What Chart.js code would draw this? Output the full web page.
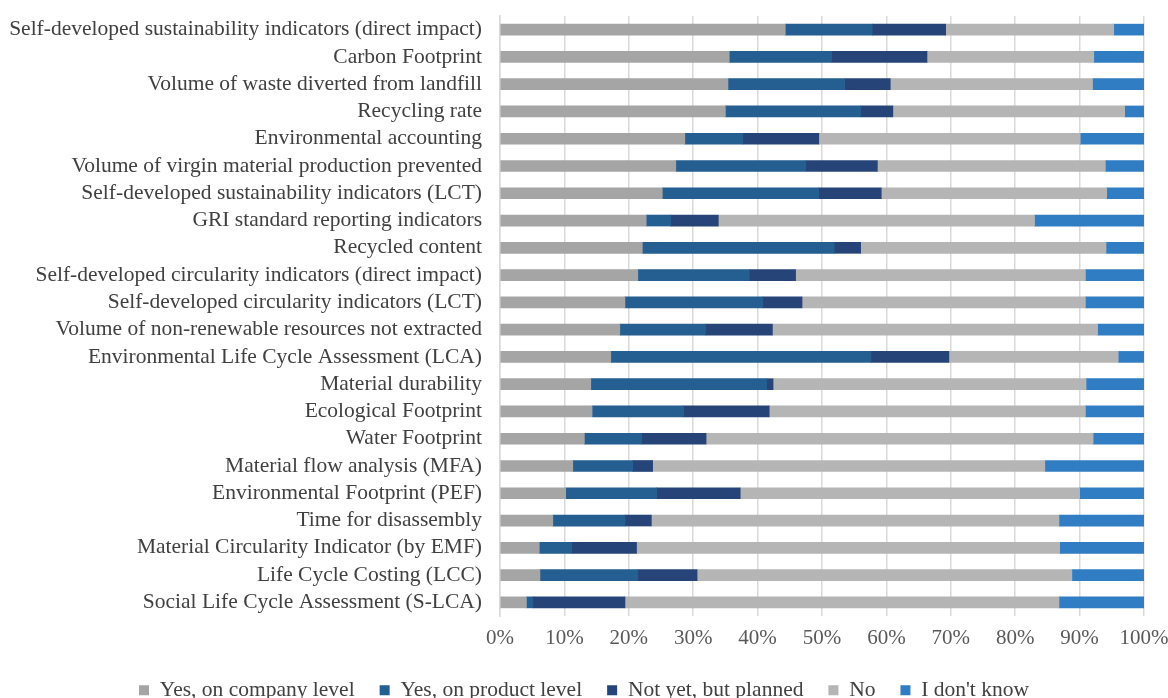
<!DOCTYPE html>
<html>
<head>
<meta charset="utf-8">
<script src="https://cdn.jsdelivr.net/npm/chart.js@4.4.1/dist/chart.umd.min.js"></script>
<style>
  html, body { margin: 0; padding: 0; background: #fff; }
  .charts { width: 1168px; height: 698px; }
</style>
</head>
<body>
<div class="charts">
  <canvas id="indicatorChart" width="1168" height="698"></canvas>
</div>
<script>
var indicators = [
  "Self-developed sustainability indicators (direct impact)",
  "Carbon Footprint",
  "Volume of waste diverted from landfill",
  "Recycling rate",
  "Environmental accounting",
  "Volume of virgin material production prevented",
  "Self-developed sustainability indicators (LCT)",
  "GRI standard reporting indicators",
  "Recycled content",
  "Self-developed circularity indicators (direct impact)",
  "Self-developed circularity indicators (LCT)",
  "Volume of non-renewable resources not extracted",
  "Environmental Life Cycle Assessment (LCA)",
  "Material durability",
  "Ecological Footprint",
  "Water Footprint",
  "Material flow analysis (MFA)",
  "Environmental Footprint (PEF)",
  "Time for disassembly",
  "Material Circularity Indicator (by EMF)",
  "Life Cycle Costing (LCC)",
  "Social Life Cycle Assessment (S-LCA)"
];

// shares in percent, one value per indicator
var yesCompany = [44.3, 35.6, 35.4, 35.0, 28.7, 27.3, 25.2, 22.7, 22.1, 21.4, 19.4, 18.6, 17.2, 14.1, 14.3, 13.1, 11.3, 10.2, 8.2, 6.1, 6.2, 4.1];
var yesProduct = [13.5, 15.9, 18.1, 21.0, 9.0, 20.2, 24.3, 3.8, 29.8, 17.3, 21.4, 13.3, 40.4, 27.3, 14.2, 8.9, 9.3, 14.1, 11.2, 5.0, 15.2, 1.0];
var planned    = [11.4, 14.8, 7.1, 5.0, 11.8, 11.1, 9.7, 7.4, 4.1, 7.2, 6.1, 10.4, 12.1, 1.0, 13.3, 10.0, 3.1, 13.0, 4.1, 10.1, 9.2, 14.3];
var no         = [26.1, 25.9, 31.4, 36.0, 40.6, 35.4, 35.0, 49.1, 38.1, 45.0, 44.0, 50.5, 26.3, 48.6, 49.1, 60.1, 60.9, 52.7, 63.3, 65.7, 58.2, 67.4];
var dontKnow   = [4.7, 7.8, 8.0, 3.0, 9.9, 6.0, 5.8, 17.0, 5.9, 9.1, 9.1, 7.2, 4.0, 9.0, 9.1, 7.9, 15.4, 10.0, 13.2, 13.1, 11.2, 13.2];

var seriesNames = ["Yes, on company level", "Yes, on product level", "Not yet, but planned", "No", "I don't know"];
var xTicks = [0, 10, 20, 30, 40, 50, 60, 70, 80, 90, 100];

function indicatorChart() {
  var colors = ["#a5a5a5", "#255e91", "#264478", "#b5b5b5", "#307dc3"];
  var values = [yesCompany, yesProduct, planned, no, dontKnow];
  var datasets = [];
  for (var i = 0; i < seriesNames.length; i++) {
    datasets.push({
      label: seriesNames[i],
      data: values[i],
      backgroundColor: colors[i],
      borderWidth: 0,
      barThickness: 11
    });
  }

  Chart.defaults.font.family = "'Liberation Serif', 'Times New Roman', serif";
  Chart.defaults.font.size = 21;
  Chart.defaults.color = "#404040";

  new Chart(document.getElementById("indicatorChart"), {
    type: "bar",
    data: { labels: indicators, datasets: datasets },
    options: {
      indexAxis: "y",
      responsive: false,
      animation: false,
      layout: { padding: { top: 16, right: 0, bottom: -13, left: 0 } },
      scales: {
        x: {
          stacked: true,
          min: 0,
          max: 100,
          afterBuildTicks: function (scale) {
            scale.ticks = xTicks.map(function (v) { return { value: v }; });
          },
          afterFit: function (scale) {
            // keep the 100% label flush with the right edge
            scale.paddingLeft = 0;
            scale.paddingRight = 24;
            scale.height = 38.5;
          },
          ticks: {
            padding: 10,
            color: "#595959",
            maxRotation: 0,
            callback: function (v) { return v + "%"; }
          },
          grid: { color: "#d9d9d9", lineWidth: 1.5, drawTicks: false },
          border: { display: false }
        },
        y: {
          stacked: true,
          afterFit: function (scale) {
            scale.width = 500;
            scale.paddingTop = 0;
            scale.paddingBottom = 0;
          },
          ticks: { padding: 18, color: "#404040", autoSkip: false, font: { size: 21.5 } },
          grid: { display: false, drawTicks: false },
          border: { color: "#d9d9d9", width: 1.5 }
        }
      },
      plugins: {
        tooltip: { enabled: false },
        legend: {
          position: "bottom",
          labels: {
            boxWidth: 10,
            boxHeight: 10,
            padding: 25,
            color: "#404040",
            font: { size: 21.5 }
          }
        }
      }
    }
  });
}

document.addEventListener("DOMContentLoaded", function () {
  if (document.querySelector(".charts")) {
    indicatorChart();
  }
});
</script>
</body>
</html>
